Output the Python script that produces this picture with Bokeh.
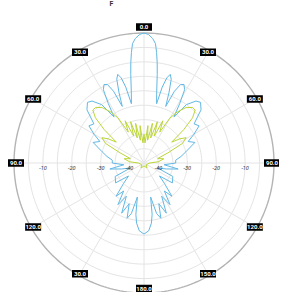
import math
from bokeh.plotting import figure
from bokeh.models import Range1d
from bokeh.core.properties import value
from bokeh.embed import file_html
from bokeh.resources import INLINE

# ---- data (angle in degrees clockwise from top, gain in dB) ----
blue_ang = [-180, -176, -173, -171, -169, -166, -163, -160, -156, -152, -148, -144, -140, -135, -130, -125, -115, -110,
            -105, -100, -95, -90, -85, -80, -75, -68, -64, -60, -56, -52, -47, -43, -40, -36, -33, -31, -29, -27, -25,
            -23, -21, -19.5, -18, -16.5, -15, -13.5, -12, -10.5, -9.5, -8.5, -7.5, -6.5, -5.5, -4, -2, 0,
            2, 4, 5.5, 6.5, 7.5, 8.5, 9.5, 10.5, 12, 13.5, 15, 16.5, 18, 19.5, 21, 23, 25, 27, 29, 31, 33, 36, 40,
            43, 47, 52, 56, 60, 64, 68, 75, 80, 85, 90, 95, 100, 105, 110, 115, 125, 130, 135, 140, 144, 148, 152,
            156, 160, 163, 166, 169, 171, 173, 176, 180]
blue_db = [-20.4, -21.5, -24, -27, -33, -27, -25, -30, -26, -32, -28, -33, -30, -35, -38, -33, -34, -40,
           -37, -33, -38, -34, -34, -32, -30, -26, -28, -25, -22, -23, -18, -16.3, -17, -20, -26, -21, -16, -14.5, -15,
           -18, -24, -19, -14.5, -13, -14.5, -18, -24, -21, -18, -14, -10, -6.5, -3.5, -1.8, -0.5, 0,
           -0.5, -1.8, -3.5, -6.5, -10, -14, -18, -21, -24, -18, -14.5, -13, -14.5, -19, -24, -18, -15, -14.5, -16,
           -21, -26, -20, -17, -16.3, -18, -23, -22, -25, -28, -26, -30, -32, -34, -34, -38, -33, -37, -40, -34,
           -33, -38, -35, -30, -33, -28, -32, -26, -30, -25, -27, -33, -27, -24, -21.5, -20.4]

green_ang = [-180, -150, -120, -90, -85, -78, -72, -67, -63, -59, -56, -53, -50, -47, -44, -41, -37, -33, -30, -27,
             -24, -21, -18, -15, -12, -9, -6, -3, 0, 3, 6, 9, 12, 15, 18, 21, 24, 27, 30, 33, 37, 41, 44, 47, 50,
             53, 56, 59, 63, 67, 72, 78, 85, 90, 120, 150, 180]
green_db = [-44, -43, -44, -43, -40, -38, -40, -36, -30, -28, -30, -33, -27, -22, -19.5, -19.5, -21, -24, -27, -33,
            -29, -35, -30, -36, -31, -37, -32, -38, -35, -38, -32, -37, -31, -36, -30, -35, -29, -33, -27, -24, -21,
            -19.5, -19.5, -22, -27, -33, -30, -28, -30, -36, -40, -38, -40, -43, -44, -43, -44]

angle_labels = ["0.0", "30.0", "60.0", "90.0", "120.0", "150.0", "180.0", "30.0", "120.0", "90.0", "60.0", "30.0"]
radial_ticks = [-10, -20, -30, -40]
ring_levels = [-40, -35, -30, -25, -20, -15, -10, -5]
R_MIN, R_MAX = -45, 0
TITLE = "F"

# ---- geometry ----
CX, CY, RAD = 151.5, 170.5, 130.0


def rpix(db):
    return max(0.0, (db - R_MIN) / (R_MAX - R_MIN) * RAD)


def to_xy(angs, dbs):
    xs, ys = [], []
    for a, d in zip(angs, dbs):
        r = rpix(d)
        t = math.radians(a)
        xs.append(CX + r * math.sin(t))
        ys.append(CY - r * math.cos(t))
    return xs, ys


def circle_pts(r, n=240):
    xs = [CX + r * math.sin(2 * math.pi * i / n) for i in range(n + 1)]
    ys = [CY - r * math.cos(2 * math.pi * i / n) for i in range(n + 1)]
    return xs, ys


p = figure(width=279, height=292, x_range=Range1d(8, 287), y_range=Range1d(300, 8),
           output_backend="svg", toolbar_location=None, x_axis_location=None, y_axis_location=None,
           min_border=0)
p.grid.visible = False
p.outline_line_color = None

# rings
rx, ry = [], []
for lv in ring_levels:
    a, b = circle_pts(rpix(lv))
    rx.append(a)
    ry.append(b)
p.multi_line(rx, ry, line_color="#e4e4e4", line_width=1)

# spokes
sx, sy = [], []
for k in range(12):
    t = math.radians(30 * k)
    sx.append([CX, CX + RAD * math.sin(t)])
    sy.append([CY, CY - RAD * math.cos(t)])
p.multi_line(sx, sy, line_color="#e4e4e4", line_width=1)

# outer circle
ox, oy = circle_pts(RAD)
p.line(ox, oy, line_color="#b4b4b4", line_width=1.4)

# series
bx, by = to_xy(blue_ang, blue_db)
p.line(bx, by, line_color="#62b8e4", line_width=1)
gx, gy = to_xy(green_ang, green_db)
p.line(gx, gy, line_color="#bcd536", line_width=1)

# radial tick labels
tx, ty, tt = [], [], []
for v in radial_ticks:
    for s in (-1, 1):
        tx.append(CX + s * rpix(v))
        ty.append(CY + 4.5)
        tt.append(str(v))
p.text(tx, ty, text=tt, text_font=value("Roboto"), text_font_size="5.5px", text_color="#333333",
       text_align="center", text_baseline="middle", text_font_style="italic")

# angle labels
lx, ly = [], []
for k in range(12):
    t = math.radians(30 * k)
    c = math.cos(t)
    if c > 0.99:
        rl = 136.0
    elif c < -0.99:
        rl = 125.5
    else:
        rl = 128.0
    lx.append(CX + rl * math.sin(t))
    ly.append(CY - rl * c)
p.rect(lx, ly, width=16, height=7.5, width_units="screen", height_units="screen",
       fill_color="black", line_color=None)
p.text(lx, ly, text=angle_labels, text_font=value("Roboto"), text_font_size="6px", text_color="white",
       text_align="center", text_baseline="middle", text_font_style="bold")

# title
p.text([119], [11], text=[TITLE], text_font=value("Roboto"), text_font_size="7px", text_color="#333333",
       text_align="center", text_baseline="middle", text_font_style="bold")

open("out.html", "w").write(file_html(p, INLINE))
